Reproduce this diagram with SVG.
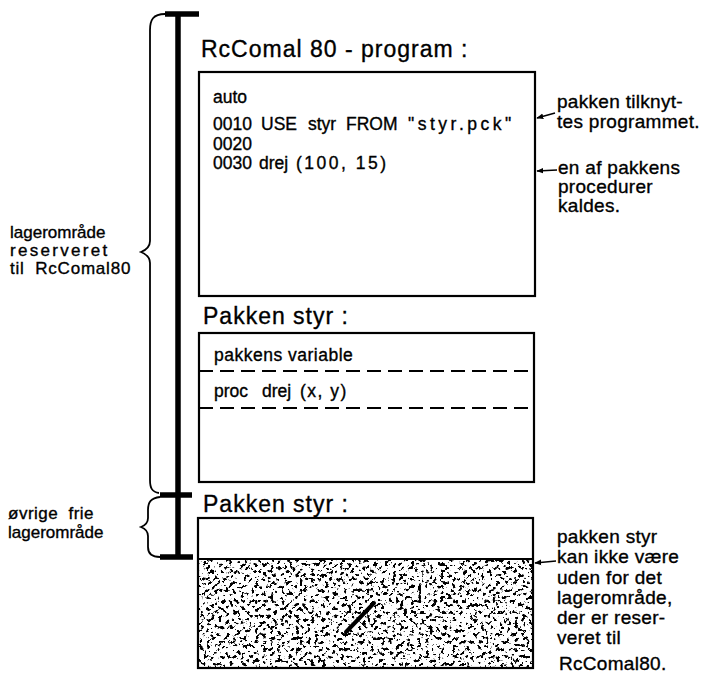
<svg xmlns="http://www.w3.org/2000/svg" width="710" height="678" viewBox="0 0 710 678">
<style>
  text { font-family: "Liberation Sans", Arial, sans-serif; fill: #000; stroke: #000; stroke-width: 0.35; }
  .title { font-size: 23px; letter-spacing: 1px; }
  .code { font-size: 17.5px; }
  .note { font-size: 19px; letter-spacing: 0.3px; }
  .side { font-size: 17px; }
  .box { fill: #fff; stroke: #000; stroke-width: 2.2; }
  .dash { stroke: #000; stroke-width: 2.2; stroke-dasharray: 14 7; fill: none; }
  .bar { stroke: #000; stroke-width: 5.5; fill: none; }
  .brace { stroke: #000; stroke-width: 1.8; fill: none; }
  .conn { stroke: #000; stroke-width: 1.5; fill: none; marker-end: url(#ah); }
</style>
<defs>
  <marker id="ah" viewBox="0 0 10 10" refX="9" refY="5" markerWidth="7" markerHeight="7" orient="auto" markerUnits="userSpaceOnUse">
    <path d="M0,1 L10,5 L0,9 Z" fill="#000"/>
  </marker>
  <filter id="stip" x="0" y="0" width="1" height="1" color-interpolation-filters="sRGB">
    <feTurbulence type="fractalNoise" baseFrequency="0.27" numOctaves="3" seed="11"/>
    <feColorMatrix type="matrix" values="0 0 0 0 0  0 0 0 0 0  0 0 0 0 0  -16 0 0 0 6.9"/>
  </filter>
</defs>
<rect width="710" height="678" fill="#fff"/>

<g id="memory-scale">
  <line class="bar" x1="178" y1="12" x2="178" y2="559"/>
  <line class="bar" x1="165" y1="14" x2="199" y2="14"/>
  <line class="bar" x1="160" y1="495" x2="192" y2="495"/>
  <line class="bar" x1="160" y1="557" x2="193" y2="557"/>
  <path class="brace" d="M165,14 C153,14 150,20 150,30 L150,241 C150,247 146,250 141,252 C146,254 150,257 150,263 L150,480 C150,488 152,492 159,493"/>
  <path class="brace" d="M160,497 C151,498 148,502 148,510 L148,518 C148,522 146,525 141,527 C146,529 148,532 148,536 L148,547 C148,553 152,557 160,557"/>
</g>

<g id="label-reserved">
  <text class="side" x="10" y="238">lagerområde</text>
  <text class="side" x="10" y="256" letter-spacing="2.3">reserveret</text>
  <text class="side" x="10" y="274" letter-spacing="0.8" word-spacing="5">til RcComal80</text>
</g>
<g id="label-free">
  <text class="side" x="8" y="519" font-size="18" letter-spacing="0.5" word-spacing="5">øvrige frie</text>
  <text class="side" x="8" y="538" font-size="18">lagerområde</text>
</g>

<g id="program">
  <text class="title" x="201" y="57">RcComal 80 - program :</text>
  <rect class="box" x="199" y="72" width="336" height="224"/>
  <text class="code" x="213" y="103">auto</text>
  <text class="code" y="130"><tspan x="213">0010</tspan><tspan x="261">USE</tspan><tspan x="308">styr</tspan><tspan x="346">FROM</tspan><tspan x="408" letter-spacing="3.5">"styr.pck"</tspan></text>
  <text class="code" x="213" y="149.6">0020</text>
  <text class="code" y="169"><tspan x="213">0030</tspan><tspan x="259">drej</tspan><tspan x="296" letter-spacing="2.5">(100, 15)</tspan></text>
</g>

<g id="package">
  <text class="title" x="203" y="324" letter-spacing="1">Pakken styr :</text>
  <rect class="box" x="199" y="333" width="335" height="149"/>
  <line class="dash" x1="199" y1="371" x2="534" y2="371"/>
  <line class="dash" x1="199" y1="408" x2="534" y2="408"/>
  <text class="code" x="214" y="361" letter-spacing="0.5">pakkens variable</text>
  <text class="code" y="397"><tspan x="214">proc</tspan><tspan x="262">drej</tspan><tspan x="300" letter-spacing="1.5">(x, y)</tspan></text>
</g>

<g id="package-outside">
  <text class="title" x="203" y="512" letter-spacing="1">Pakken styr :</text>
  <rect class="box" x="198" y="518" width="335" height="150"/>
  <rect x="199" y="560" width="333" height="107" fill="#000" filter="url(#stip)"/>
  <line x1="198" y1="559" x2="533" y2="559" stroke="#000" stroke-width="2.2"/>
  <line x1="346" y1="632" x2="374" y2="603" stroke="#000" stroke-width="4" stroke-linecap="round"/>
</g>

<g id="note-attach">
  <text class="note" x="557" y="108">pakken tilknyt-</text>
  <text class="note" x="557" y="128">tes programmet.</text>
</g>
<g id="note-call">
  <text class="note" x="558" y="174">en af pakkens</text>
  <text class="note" x="558" y="193">procedurer</text>
  <text class="note" x="558" y="212">kaldes.</text>
</g>
<g id="note-outside">
  <text class="note" x="557" y="543">pakken styr</text>
  <text class="note" x="557" y="563">kan ikke være</text>
  <text class="note" x="557" y="584">uden for det</text>
  <text class="note" x="557" y="604">lagerområde,</text>
  <text class="note" x="557" y="624">der er reser-</text>
  <text class="note" x="557" y="644">veret til</text>
  <text class="note" x="559" y="670">RcComal80.</text>
</g>

<g id="connectors">
  <path class="conn" d="M555,113 L537,118"/>
  <path class="conn" d="M557,170 L537,171"/>
  <path class="conn" d="M556,561 L535,563"/>
</g>
</svg>
